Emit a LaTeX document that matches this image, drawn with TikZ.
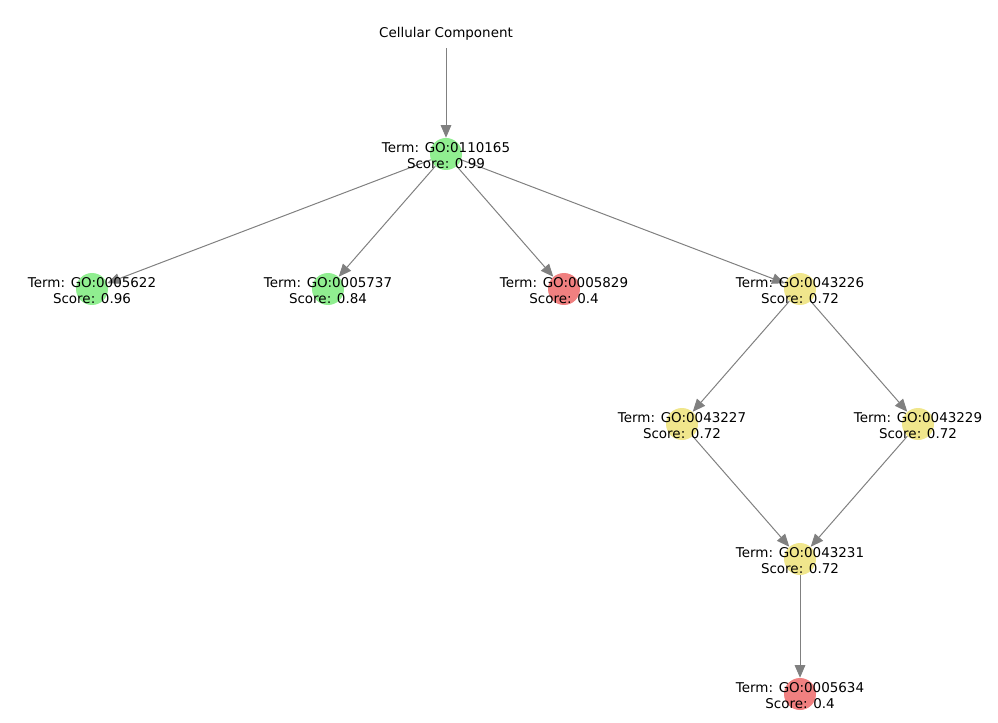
\documentclass[tikz,border=0pt]{standalone}
\usepackage{fontspec}
\setmainfont{DejaVu Sans}
\usetikzlibrary{arrows.meta}
\definecolor{golight}{HTML}{90EE90}
\definecolor{gocoral}{HTML}{F08080}
\definecolor{gokhaki}{HTML}{F0E68C}
\definecolor{edgegray}{HTML}{808080}
\tikzset{
  gonode/.style={
    circle,
    draw=none,
    minimum size=24pt,
    inner sep=0pt
  },
  gogreen/.style={gonode, fill=golight},
  gored/.style={gonode, fill=gocoral},
  goyellow/.style={gonode, fill=gokhaki},
  golabel/.style={
    align=center,
    inner sep=0pt,
    yshift=-1.2pt,
    text=black,
    font=\fontsize{10.1}{12}\selectfont
  },
  edge/.style={-{Triangle[length=9.5pt,width=8pt]}, line width=0.75pt, draw=edgegray}
}

\begin{document}
\begin{tikzpicture}[x=0.75pt, y=-0.75pt]
  \useasboundingbox (0,0) rectangle (998,723);
  % circles
  \node[gonode] (root) at (446,32) {};
  \node[gogreen] (go0110165) at (446,154) {};
  \node[gogreen] (go0005622) at (92,289) {};
  \node[gogreen] (go0005737) at (328,289) {};
  \node[gored] (go0005829) at (564,289) {};
  \node[goyellow] (go0043226) at (800,289) {};
  \node[goyellow] (go0043227) at (682,424) {};
  \node[goyellow] (go0043229) at (918,424) {};
  \node[goyellow] (go0043231) at (800,559) {};
  \node[gored] (go0005634) at (800,694) {};
  % edges
  \draw[edge] (root) -- (go0110165);
  \draw[edge] (go0110165) -- (go0005622);
  \draw[edge] (go0110165) -- (go0005737);
  \draw[edge] (go0110165) -- (go0005829);
  \draw[edge] (go0110165) -- (go0043226);
  \draw[edge] (go0043226) -- (go0043227);
  \draw[edge] (go0043226) -- (go0043229);
  \draw[edge] (go0043227) -- (go0043231);
  \draw[edge] (go0043229) -- (go0043231);
  \draw[edge] (go0043231) -- (go0005634);
  % labels
  \node[golabel] (root-t) at (root) {Cellular Component};
  \node[golabel] (go0110165-t) at (go0110165) {Term: GO:0110165\\Score: 0.99};
  \node[golabel] (go0005622-t) at (go0005622) {Term: GO:0005622\\Score: 0.96};
  \node[golabel] (go0005737-t) at (go0005737) {Term: GO:0005737\\Score: 0.84};
  \node[golabel] (go0005829-t) at (go0005829) {Term: GO:0005829\\Score: 0.4};
  \node[golabel] (go0043226-t) at (go0043226) {Term: GO:0043226\\Score: 0.72};
  \node[golabel] (go0043227-t) at (go0043227) {Term: GO:0043227\\Score: 0.72};
  \node[golabel] (go0043229-t) at (go0043229) {Term: GO:0043229\\Score: 0.72};
  \node[golabel] (go0043231-t) at (go0043231) {Term: GO:0043231\\Score: 0.72};
  \node[golabel] (go0005634-t) at (go0005634) {Term: GO:0005634\\Score: 0.4};
\end{tikzpicture}
\end{document}
